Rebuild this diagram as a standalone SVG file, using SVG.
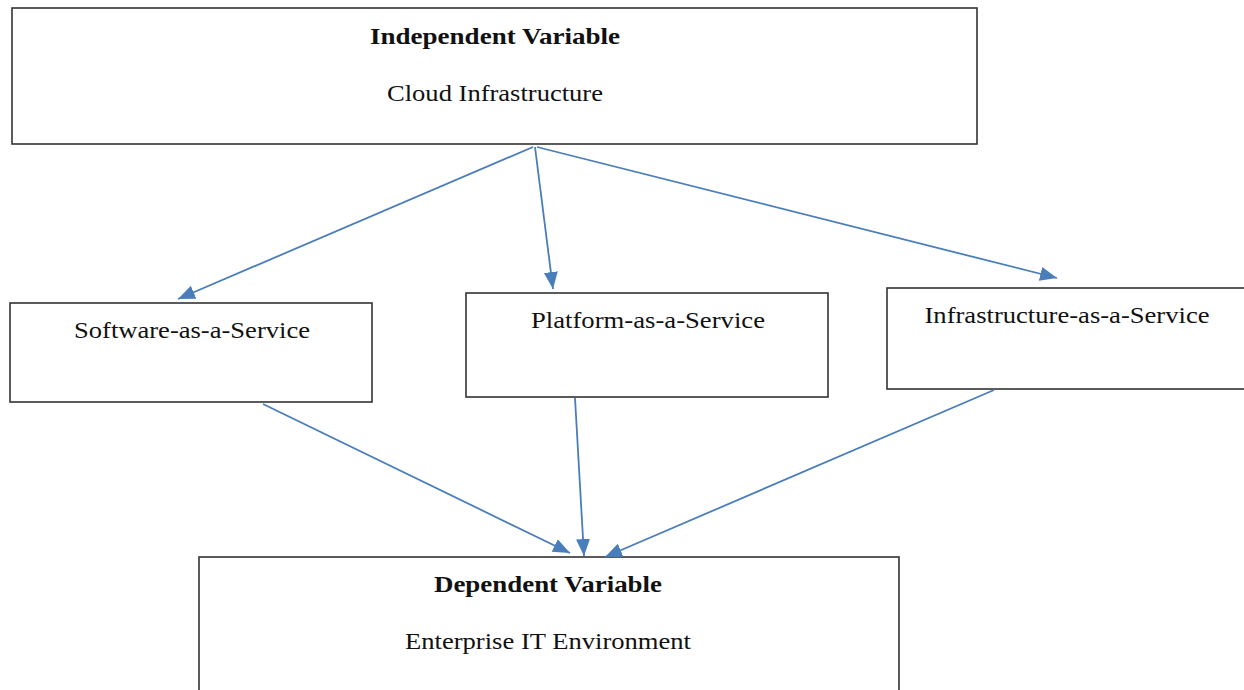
<svg xmlns="http://www.w3.org/2000/svg" width="1244" height="690" viewBox="0 0 1244 690">
  <style>
    .box { fill: #ffffff; stroke: #333333; stroke-width: 1.6; }
    text { font-family: 'Liberation Serif', Tinos, 'Times New Roman', Times, serif; font-size: 23px; fill: #111111; text-anchor: middle; }
    .hd { font-weight: bold; }
    .edge { stroke: #4a7ebb; stroke-width: 1.8; fill: none; marker-end: url(#arrow); }
  </style>
  <defs>
    <marker id="arrow" markerUnits="userSpaceOnUse" markerWidth="20" markerHeight="16" refX="17" refY="7" orient="auto">
      <path d="M0,0 L17,7 L0,14 Z" fill="#4a7ebb"/>
    </marker>
  </defs>
  <rect width="1244" height="690" fill="#ffffff"/>

  <g id="independent">
    <rect class="box" x="12" y="8" width="965" height="136"/>
    <text class="hd" x="495" y="44" textLength="250" lengthAdjust="spacingAndGlyphs">Independent Variable</text>
    <text x="495" y="101" textLength="216" lengthAdjust="spacingAndGlyphs">Cloud Infrastructure</text>
  </g>

  <g id="saas">
    <rect class="box" x="10" y="303" width="362" height="99"/>
    <text x="192" y="338" textLength="236" lengthAdjust="spacingAndGlyphs">Software-as-a-Service</text>
  </g>

  <g id="paas">
    <rect class="box" x="466" y="293" width="362" height="104"/>
    <text x="648" y="328" textLength="234" lengthAdjust="spacingAndGlyphs">Platform-as-a-Service</text>
  </g>

  <g id="iaas">
    <rect class="box" x="887" y="288" width="360" height="101"/>
    <text x="1067" y="323" textLength="285" lengthAdjust="spacingAndGlyphs">Infrastructure-as-a-Service</text>
  </g>

  <g id="dependent">
    <rect class="box" x="199" y="557" width="700" height="140"/>
    <text class="hd" x="548" y="592" textLength="228" lengthAdjust="spacingAndGlyphs">Dependent Variable</text>
    <text x="548" y="649" textLength="286" lengthAdjust="spacingAndGlyphs">Enterprise IT Environment</text>
  </g>

  <g id="connectors">
    <line class="edge" x1="533" y1="147" x2="178" y2="299"/>
    <line class="edge" x1="535" y1="147" x2="553" y2="289"/>
    <line class="edge" x1="537" y1="147" x2="1057" y2="278"/>
    <line class="edge" x1="263" y1="404" x2="570" y2="553"/>
    <line class="edge" x1="575" y1="398" x2="584" y2="556"/>
    <line class="edge" x1="994" y1="390" x2="605" y2="557"/>
  </g>
</svg>
